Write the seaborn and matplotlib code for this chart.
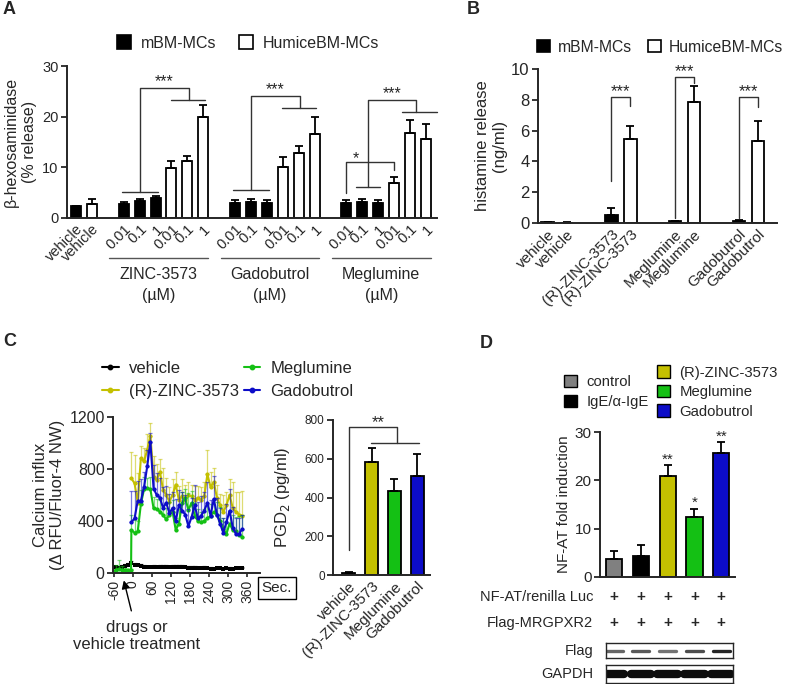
import matplotlib
matplotlib.use("Agg")
import matplotlib.pyplot as plt
from matplotlib.lines import Line2D
from matplotlib.patches import Patch
import seaborn as sns
import pandas as pd
import numpy as np

# ---------------- data ----------------
cells = ["mBM-MCs", "HumiceBM-MCs"]

# A: beta-hexosaminidase release
a_drugs = ["ZINC-3573", "Gadobutrol", "Meglumine"]
a_doses = ["0.01", "0.1", "1"]
a_vehicle = [2.3, 2.8]
a_vehicle_err = [0.15, 0.9]
a_zinc_m = [2.7, 3.3, 3.9]
a_zinc_m_err = [0.4, 0.5, 0.5]
a_zinc_h = [9.8, 11.3, 20.0]
a_zinc_h_err = [1.5, 1.0, 2.3]
a_gado_m = [3.0, 3.1, 3.0]
a_gado_m_err = [0.6, 0.6, 0.6]
a_gado_h = [10.0, 12.9, 16.6]
a_gado_h_err = [2.1, 1.3, 3.4]
a_meg_m = [3.0, 3.1, 3.0]
a_meg_m_err = [0.5, 0.6, 0.6]
a_meg_h = [6.9, 16.7, 15.6]
a_meg_h_err = [1.1, 2.6, 2.9]

# B: histamine release
b_drugs = ["vehicle", "(R)-ZINC-3573", "Meglumine", "Gadobutrol"]
b_mbm = [0.05, 0.5, 0.1, 0.1]
b_mbm_err = [0.02, 0.5, 0.05, 0.1]
b_hu = [0.03, 5.45, 7.85, 5.3]
b_hu_err = [0.01, 0.85, 1.05, 1.35]

# C: calcium influx time course
c_names = ["vehicle", "(R)-ZINC-3573", "Meglumine", "Gadobutrol"]
c_time_all = list(range(-65, 350, 10))
c_time_pre = list(range(-65, -10, 10)) + [-6]
c_time_post = list(range(-5, 350, 10))
c_vehicle = [45, 45, 40, 48, 55, 60, 75, 65, 60, 55, 50, 45, 45, 45, 45, 48, 50, 48, 45, 45,
             48, 50, 48, 45, 40, 42, 40, 38, 35, 40, 35, 32, 30, 35, 35, 30, 35, 32, 30, 35,
             35, 38]
c_vehicle_err = [10, 12, 15, 12, 15, 15, 18, 15, 12, 12, 12, 12, 12, 15, 12, 12, 15, 12, 12, 15,
                 12, 12, 12, 12, 12, 15, 12, 12, 12, 12, 12, 15, 12, 12, 12, 12, 12, 12, 12, 12,
                 12, 12]
c_zinc = [728, 690, 540, 884, 858, 948, 1057, 740, 715, 780, 640, 600, 550, 600, 680, 560, 590, 560,
          600, 590, 560, 580, 560, 590, 760, 660, 700, 580, 520, 470, 520, 600, 500, 470, 450, 440]
c_zinc_err = [205, 215, 230, 90, 100, 120, 95, 160, 120, 100, 170, 130, 110, 120, 100, 110, 130, 120,
              100, 90, 110, 90, 100, 110, 190, 120, 110, 100, 90, 130, 100, 120, 200, 150, 170, 190]
c_meg_pre = [0, 25, 30, 25, 20, 20, 22]
c_meg_pre_err = [0, 40, 70, 30, 20, 10, 10]
c_meg = [330, 310, 320, 530, 645, 652, 645, 497, 490, 472, 446, 412, 446, 472, 330, 380, 540, 575,
         485, 540, 440, 400, 390, 400, 420, 440, 470, 450, 400, 340, 300, 380, 330, 320, 290, 280]
c_meg_err = [120, 100, 80, 110, 90, 80, 90, 90, 80, 90, 80, 90, 100, 90, 90, 110, 80, 70,
             130, 90, 100, 90, 80, 90, 100, 90, 100, 100, 110, 80, 90, 100, 120, 110, 150, 170]
c_gado = [390, 420, 555, 555, 660, 820, 1010, 650, 600, 580, 500, 540, 460, 500, 400, 520, 480, 450,
          360, 430, 520, 420, 440, 480, 540, 440, 570, 450, 380, 310, 390, 480, 350, 300, 300, 340]
c_gado_err = [240, 210, 150, 170, 120, 130, 70, 180, 170, 150, 160, 130, 150, 120, 170, 120, 140, 150,
              130, 150, 160, 130, 150, 140, 160, 120, 180, 130, 120, 110, 140, 170, 160, 120, 120, 110]

# C: PGD2
p_vals = [8, 585, 432, 511]
p_err = [5, 70, 65, 115]

# D: NF-AT reporter
d_names = ["control", "IgE/\u03b1-IgE", "(R)-ZINC-3573", "Meglumine", "Gadobutrol"]
d_vals = [3.8, 4.3, 20.8, 12.4, 25.7]
d_err = [1.5, 2.3, 2.3, 1.7, 2.2]
d_stars = ["", "", "**", "*", "**"]
d_rows = ["NF-AT/renilla Luc", "Flag-MRGPXR2"]
d_flag_band = [0.6, 0.65, 0.55, 0.7, 0.85]

colors = {"vehicle": "black", "(R)-ZINC-3573": "#c4c000",
          "Meglumine": "#14c014", "Gadobutrol": "#0c0cc8"}
d_colors = ["#808080", "black", "#c4c000", "#14c014", "#0c0cc8"]

# ---------------- figure ----------------
sns.set_style("ticks")
plt.rcParams["font.family"] = ["Liberation Sans", "DejaVu Sans"]
plt.rcParams["axes.linewidth"] = 1.4

W, H = 800, 684
fig = plt.figure(figsize=(8, 6.84), dpi=100)


def rect(l, t, r, b):
    return [l / W, 1 - b / H, (r - l) / W, (b - t) / H]


def fxy(x, y):
    return x / W, 1 - y / H


def line(ax, xs, ys, **kw):
    ax.plot(xs, ys, color="#333333", lw=1.0, clip_on=False, **kw)


def style(ax, ysize):
    sns.despine(ax=ax)
    ax.tick_params(axis="y", direction="out", length=4, width=1.3, labelsize=ysize, pad=2)
    ax.tick_params(axis="x", length=0, pad=3)
    ax.set_xlabel("")


def rot45(ax, size):
    for lab in ax.get_xticklabels():
        lab.set_rotation(45)
        lab.set_ha("right")
        lab.set_rotation_mode("anchor")
        lab.set_fontsize(size)


# ---- A ----
axA = fig.add_axes(rect(67, 66, 437, 218))
rows = [(0, cells[0], a_vehicle[0], a_vehicle_err[0]),
        (1, cells[1], a_vehicle[1], a_vehicle_err[1])]
xt_labels = ["vehicle", "vehicle"]
starts = []
s = 3
for m, me, h, he in [(a_zinc_m, a_zinc_m_err, a_zinc_h, a_zinc_h_err),
                     (a_gado_m, a_gado_m_err, a_gado_h, a_gado_h_err),
                     (a_meg_m, a_meg_m_err, a_meg_h, a_meg_h_err)]:
    starts.append(s)
    for i in range(3):
        rows.append((s + i, cells[0], m[i], me[i]))
    for i in range(3):
        rows.append((s + 3 + i, cells[1], h[i], he[i]))
    xt_labels += a_doses * 2
    s += 7
dfa = pd.DataFrame(rows, columns=["pos", "cell", "val", "err"])
sns.barplot(data=dfa, x="pos", y="val", hue="cell", hue_order=cells,
            palette=["black", "white"], native_scale=True, dodge=False, width=0.63,
            edgecolor="black", linewidth=1.3, errorbar=None, legend=False,
            saturation=1, ax=axA)
axA.errorbar(dfa.pos, dfa.val, yerr=[np.zeros(len(dfa)), dfa.err], fmt="none",
             ecolor="black", elinewidth=1.3, capsize=3, capthick=1.3)
axA.set_xlim(-0.57, 22.7)
axA.set_ylim(0, 30)
axA.set_yticks([0, 10, 20, 30])
style(axA, 10.5)
axA.set_xticks(dfa.pos)
axA.set_xticklabels(xt_labels)
rot45(axA, 10.5)
axA.set_ylabel("\u03b2-hexosaminidase\n(% release)", fontsize=11.5, labelpad=4)
tr = axA.get_xaxis_transform()
for st, name in zip(starts, a_drugs):
    axA.plot([st - 0.9, st + 5.3], [-0.263, -0.263], color="#555555", lw=1,
             transform=tr, clip_on=False)
    axA.text(st + 2.2, -0.37, name, transform=tr, ha="center", va="center", fontsize=11.5)
    axA.text(st + 2.2, -0.51, "(\u00b5M)", transform=tr, ha="center", va="center", fontsize=11.5)
for st, (ylow, ytop, ydrop) in zip(starts[:2], [(5.2, 25.7, 23.3), (5.5, 24.1, 21.7)]):
    line(axA, [st - 0.1, st + 2.15], [ylow, ylow])
    line(axA, [st + 1, st + 1, st + 4.1, st + 4.1], [ylow, ytop, ytop, ydrop])
    line(axA, [st + 2.95, st + 5.1], [ydrop, ydrop])
    axA.text(st + 2.55, ytop + 1.2, "***", ha="center", va="center", fontsize=11.5)
st = starts[2]
line(axA, [st, st, st + 3, st + 3], [4.9, 11.1, 11.1, 9.5])
axA.text(st + 0.6, 11.75, "*", ha="center", va="center", fontsize=11.5)
line(axA, [st + 0.6, st + 2.1], [6.1, 6.1])
line(axA, [st + 1.35, st + 1.35, st + 4.4, st + 4.4], [6.1, 23.3, 23.3, 21.0])
line(axA, [st + 3.5, st + 5.7], [21.0, 21.0])
axA.text(st + 2.9, 24.5, "***", ha="center", va="center", fontsize=11.5)

cell_handles = [Patch(facecolor="black", edgecolor="black", lw=1.2),
                Patch(facecolor="white", edgecolor="black", lw=1.2)]
fig.legend(cell_handles, cells, loc="center left", bbox_to_anchor=fxy(117, 43),
           ncol=2, frameon=False, borderpad=0, borderaxespad=0, handlelength=0.9,
           handleheight=0.9, handletextpad=0.6, columnspacing=1.4, fontsize=11.5)

# ---- B ----
axB = fig.add_axes(rect(538, 69, 777, 223))
dfb = pd.DataFrame({"drug": b_drugs * 2,
                    "cell": [cells[0]] * 4 + [cells[1]] * 4,
                    "val": b_mbm + b_hu,
                    "err": b_mbm_err + b_hu_err})
sns.barplot(data=dfb, x="drug", y="val", hue="cell", hue_order=cells, order=b_drugs,
            palette=["black", "white"], width=0.6, gap=0.35, edgecolor="black",
            linewidth=1.3, errorbar=None, legend=False, saturation=1, ax=axB)
bx = np.arange(len(b_drugs))
for off, v, e in [(-0.15, b_mbm, b_mbm_err), (0.15, b_hu, b_hu_err)]:
    axB.errorbar(bx + off, v, yerr=[np.zeros(len(v)), e], fmt="none", ecolor="black",
                 elinewidth=1.3, capsize=3, capthick=1.3)
axB.set_xlim(-0.3, 3.45)
axB.set_ylim(0, 10)
axB.set_yticks([0, 2, 4, 6, 8, 10])
style(axB, 12)
axB.set_xticks(np.concatenate([bx - 0.15, bx + 0.15]))
axB.set_xticklabels(b_drugs * 2)
rot45(axB, 11)
axB.set_ylabel("histamine release\n(ng/ml)", fontsize=12, labelpad=3)
for i, (lo, top, ro) in zip([1, 2, 3], [(2.7, 8.2, 7.6), (0.3, 9.5, 9.1), (0.3, 8.2, 7.5)]):
    line(axB, [i - 0.15, i - 0.15, i + 0.15, i + 0.15], [lo, top, top, ro])
    axB.text(i, top + 0.35, "***", ha="center", va="center", fontsize=12)
fig.legend(cell_handles, cells, loc="center left", bbox_to_anchor=fxy(537, 47),
           ncol=2, frameon=False, borderpad=0, borderaxespad=0, handlelength=0.85,
           handleheight=0.85, handletextpad=0.5, columnspacing=1.0, fontsize=11.3)

# ---- C (time course) ----
axC = fig.add_axes(rect(113, 417, 260, 573))
series = [(c_time_all, c_vehicle, c_vehicle_err, "vehicle", "s", 1.1),
          (c_time_post, c_zinc, c_zinc_err, "(R)-ZINC-3573", "o", 1.5),
          (c_time_pre + c_time_post, c_meg_pre + c_meg, c_meg_pre_err + c_meg_err, "Meglumine", "o", 1.5),
          (c_time_post, c_gado, c_gado_err, "Gadobutrol", "o", 1.5)]
for t, v, e, name, mk, lw in series:
    axC.errorbar(t, v, yerr=[np.zeros(len(v)), e], fmt="none", ecolor=colors[name],
                 alpha=0.55, elinewidth=0.9, capsize=1.5, capthick=0.9)
    sns.lineplot(x=t, y=v, color=colors[name], marker=mk, markersize=3.0,
                 markeredgewidth=0, lw=lw, errorbar=None, ax=axC)
axC.set_xlim(-63, 401)
axC.set_ylim(0, 1200)
axC.set_yticks([0, 400, 800, 1200])
sns.despine(ax=axC)
axC.tick_params(axis="y", length=4, width=1.3, labelsize=11.5, pad=2)
axC.tick_params(axis="x", length=3, width=1.2, pad=2)
xt = list(range(-60, 361, 60))
axC.set_xticks(xt)
axC.set_xticklabels([str(x) for x in xt], rotation=90, fontsize=10)
axC.set_ylabel("Calcium influx\n(\u0394 RFU/Fluor-4 NW)", fontsize=12, labelpad=3)
axC.annotate("", xy=(-31, -0.03), xycoords=("data", "axes fraction"),
             xytext=(-3, -0.26), textcoords=("data", "axes fraction"),
             arrowprops=dict(arrowstyle="-|>", color="black", lw=1, mutation_scale=12))
fig.text(*fxy(137, 636), "drugs or\nvehicle treatment", ha="center", va="center",
         fontsize=12, linespacing=1.1)
fig.text(*fxy(277, 588), "Sec.", ha="center", va="center", fontsize=11,
         bbox=dict(boxstyle="square,pad=0.25", fc="white", ec="black", lw=1))
c_handles = [Line2D([], [], color=colors[n], marker="o", markersize=3.2, lw=1.5) for n in c_names]
fig.legend(c_handles, c_names, loc="center left", bbox_to_anchor=fxy(102, 380), ncol=2,
           frameon=False, borderpad=0, borderaxespad=0, handlelength=1.0,
           handletextpad=0.6, columnspacing=0.3, labelspacing=0.45, fontsize=12)

# ---- C (PGD2) ----
axP = fig.add_axes(rect(333, 420, 430, 575))
dfp = pd.DataFrame({"drug": c_names, "val": p_vals})
sns.barplot(data=dfp, x="drug", y="val", hue="drug", order=c_names, hue_order=c_names,
            palette=["#555555"] + [colors[n] for n in c_names[1:]], width=0.57,
            edgecolor="black", linewidth=1.3, errorbar=None, legend=False, saturation=1, ax=axP)
axP.errorbar(np.arange(4), p_vals, yerr=[np.zeros(4), p_err], fmt="none", ecolor="black",
             elinewidth=1.3, capsize=3, capthick=1.3)
axP.set_xlim(-0.7, 3.57)
axP.set_ylim(0, 800)
axP.set_yticks([0, 200, 400, 600, 800])
style(axP, 8.5)
axP.set_xticks(np.arange(4))
axP.set_xticklabels(c_names)
rot45(axP, 11)
axP.set_ylabel("PGD$_2$ (pg/ml)", fontsize=12, labelpad=9)
line(axP, [0, 0, 2.1, 2.1], [130, 765, 765, 680])
line(axP, [0.97, 3.08], [680, 680])
axP.text(1.3, 786, "**", ha="center", va="center", fontsize=12)

# ---- D ----
axD = fig.add_axes(rect(600, 432, 735, 577))
dfd = pd.DataFrame({"name": d_names, "val": d_vals})
sns.barplot(data=dfd, x="name", y="val", hue="name", order=d_names, hue_order=d_names,
            palette=d_colors, width=0.6, edgecolor="black", linewidth=1.3,
            errorbar=None, legend=False, saturation=1, ax=axD)
dx = np.arange(len(d_names))
axD.errorbar(dx, d_vals, yerr=[np.zeros(len(dx)), d_err], fmt="none", ecolor="black",
             elinewidth=1.3, capsize=3, capthick=1.3)
for i, (v, e, star) in enumerate(zip(d_vals, d_err, d_stars)):
    if star:
        axD.text(i, v + e + 1.2, star, ha="center", va="center", fontsize=11)
axD.set_xlim(-0.52, 4.51)
axD.set_ylim(0, 30)
axD.set_yticks([0, 10, 20, 30])
style(axD, 11)
axD.set_xticks([])
axD.set_ylabel("NF-AT fold induction", fontsize=11, labelpad=3)
trD = axD.get_xaxis_transform()
for yf, ypx, lab in [(-0.138, 597, d_rows[0]), (-0.317, 623, d_rows[1])]:
    fig.text(*fxy(593, ypx), lab, ha="right", va="center", fontsize=10.5)
    for i in dx:
        axD.text(i, yf, "+", transform=trD, ha="center", va="center", fontsize=11,
                 fontweight="bold")
d_h1 = [Patch(facecolor=c, edgecolor="black", lw=1) for c in d_colors[:2]]
d_h2 = [Patch(facecolor=c, edgecolor="black", lw=1) for c in d_colors[2:]]
fig.legend(d_h1, d_names[:2], loc="center left", bbox_to_anchor=fxy(564, 392),
           frameon=False, borderpad=0, borderaxespad=0, handlelength=0.9, handleheight=0.9,
           handletextpad=0.6, labelspacing=0.35, fontsize=10.7)
fig.legend(d_h2, d_names[2:], loc="center left", bbox_to_anchor=fxy(657, 392),
           frameon=False, borderpad=0, borderaxespad=0, handlelength=0.9, handleheight=0.9,
           handletextpad=0.6, labelspacing=0.35, fontsize=10.7)

# blots
for (t, b), lab, widths, half, shades in [((643, 658), "Flag", 2.4, 0.32, d_flag_band),
                                          ((665, 683), "GAPDH", 6.0, 0.38, [0.95] * 5)]:
    axb = fig.add_axes(rect(606, t, 733, b))
    axb.set_xlim(-0.296, 4.44)
    axb.set_ylim(0, 1)
    for i, sh in zip(dx, shades):
        axb.plot([i - half, i + half], [0.5, 0.5], lw=widths, color=str(round(1 - sh, 2)),
                 solid_capstyle="round")
    axb.set_xticks([])
    axb.set_yticks([])
    for sp in axb.spines.values():
        sp.set_linewidth(1)
    fig.text(*fxy(593, (t + b) / 2), lab, ha="right", va="center", fontsize=10.5)

# panel letters
for lab, (x, y) in zip("ABCD", [(3, 10), (467, 9), (3, 342), (480, 344)]):
    fig.text(*fxy(x, y), lab, ha="left", va="center", fontsize=13, fontweight="bold")

fig.savefig("out.png", dpi=100)
